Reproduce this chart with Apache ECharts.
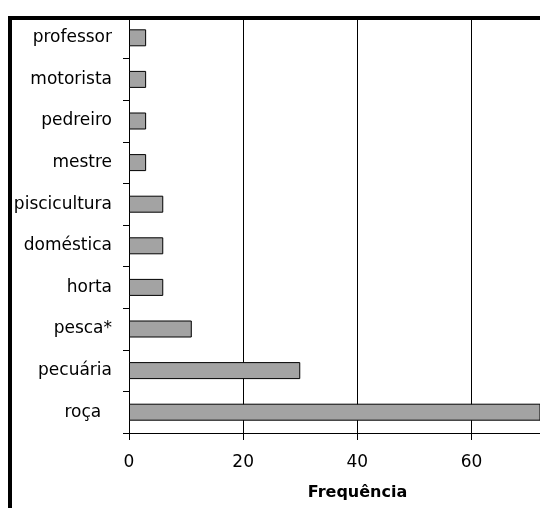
<!DOCTYPE html>
<html>
<head>
<meta charset="utf-8">
<script src="https://cdn.jsdelivr.net/npm/echarts@6/dist/echarts.min.js"></script>
<style>
html, body { margin: 0; padding: 0; background: #fff; }
#chart { width: 540px; height: 508px; }
</style>
</head>
<body>
<div id="chart"></div>
<script>
// categorias (de baixo para cima)
var categorias = ['roça  ', 'pecuária', 'pesca*', 'horta', 'doméstica', 'piscicultura', 'mestre', 'pedreiro', 'motorista', 'professor'];
var frequencia = [75, 30, 11, 6, 6, 6, 3, 3, 3, 3];
var xTicks = [0, 20, 40, 60];

var fonte = 'DejaVu Sans';

var myChart = echarts.init(document.getElementById('chart'));
var option = {
    animation: false,
    backgroundColor: '#ffffff',
    grid: { left: 129, right: -1, top: 17, bottom: 75 },
    xAxis: {
        type: 'value',
        min: 0,
        max: 72,
        interval: 20,
        name: 'Frequência',
        nameLocation: 'middle',
        nameGap: 52,
        nameTextStyle: { fontFamily: fonte, fontSize: 16, fontWeight: 'bold', color: '#000', padding: [0, 0, 0, 46] },
        axisLine: { show: true, lineStyle: { color: '#000', width: 1 } },
        axisTick: { show: true, length: 7, lineStyle: { color: '#000' } },
        axisLabel: {
            margin: 21, fontFamily: fonte, fontSize: 17, color: '#000',
            showMaxLabel: false,
            formatter: function (v) { return xTicks.indexOf(v) >= 0 ? String(v) : ''; }
        },
        splitLine: { show: true, lineStyle: { color: '#000', width: 1 } }
    },
    yAxis: {
        type: 'category',
        data: categorias,
        axisLine: { show: true, lineStyle: { color: '#000', width: 1 } },
        axisTick: { show: true, length: 6, lineStyle: { color: '#000' } },
        axisLabel: { margin: 17, fontFamily: fonte, fontSize: 17, color: '#000' },
        splitLine: { show: false }
    },
    series: [{
        type: 'bar',
        data: frequencia,
        barWidth: 17,
        clip: true,
        itemStyle: { color: '#a3a3a3', borderColor: '#000', borderWidth: 1 }
    }],
    graphic: [
        { type: 'rect', shape: { x: 8, y: 16, width: 540, height: 4 }, style: { fill: '#000' }, z: 100 },
        { type: 'rect', shape: { x: 8, y: 16, width: 4, height: 500 }, style: { fill: '#000' }, z: 100 }
    ]
};
myChart.setOption(option);
</script>
</body>
</html>
